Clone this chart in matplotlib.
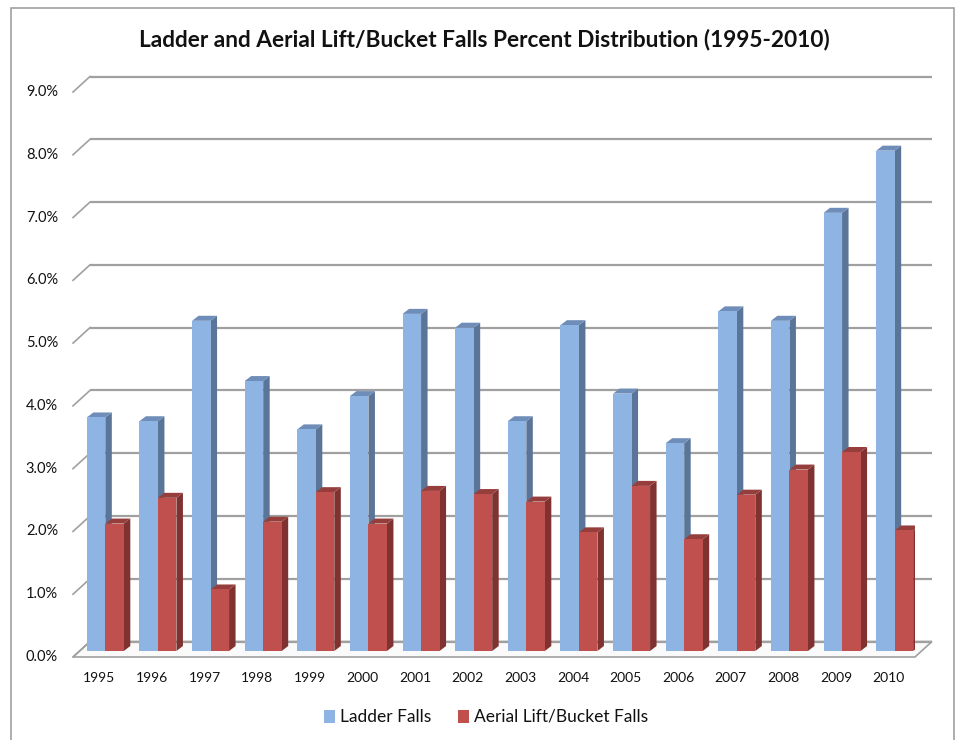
import matplotlib
matplotlib.use("Agg")
import matplotlib.pyplot as plt
from matplotlib.patches import Polygon, Rectangle
import numpy as np

# ---- data ----
years = ["1995", "1996", "1997", "1998", "1999", "2000", "2001", "2002",
         "2003", "2004", "2005", "2006", "2007", "2008", "2009", "2010"]
ladder = [3.72, 3.66, 5.26, 4.30, 3.53, 4.06, 5.37, 5.15,
          3.66, 5.19, 4.10, 3.31, 5.41, 5.26, 6.98, 7.97]
aerial = [2.03, 2.44, 0.98, 2.06, 2.53, 2.03, 2.55, 2.50,
          2.38, 1.89, 2.63, 1.78, 2.49, 2.89, 3.17, 1.92]
yticks = [0, 1, 2, 3, 4, 5, 6, 7, 8, 9]
series_names = ["Ladder Falls", "Aerial Lift/Bucket Falls"]

title = "Ladder and Aerial Lift/Bucket Falls Percent Distribution (1995-2010)"

FONT = ["Lato", "DejaVu Sans"]
plt.rcParams["font.family"] = FONT

W, H = 958, 740
fig = plt.figure(figsize=(W / 100, H / 100), dpi=100)

# front plane in pixels
x0p, x1p = 73, 915
y0p, y9p = 657, 92
ax = fig.add_axes([x0p / W, 1 - y0p / H, (x1p - x0p) / W, (y0p - y9p) / H])
ax.set_xlim(-0.5, 15.5)
ax.set_ylim(0, 9)
ax.axis("off")

ppx = (x1p - x0p) / 16.0       # pixels per category
ppy = (y0p - y9p) / 9.0         # pixels per percent

# depth offsets (data units)
dxw, dyw = 17 / ppx, 15.5 / ppy      # back wall
dxb, dyb = 6 / ppx, 6 / ppy          # bar front plane
ddx, ddy = 6.5 / ppx, 5 / ppy        # bar depth

grid_c = "#a0a0a0"
# floor
floor = Polygon([(-0.5, 0), (15.5, 0), (15.5 + dxw, dyw), (-0.5 + dxw, dyw)],
                closed=True, facecolor="#fafafa", edgecolor=grid_c, lw=1.2,
                clip_on=False, zorder=1)
ax.add_patch(floor)
# gridlines on back wall + left diagonal
for t in yticks:
    ax.plot([-0.5 + dxw, 15.5 + dxw], [t + dyw, t + dyw], color=grid_c,
            lw=1.6, clip_on=False, zorder=1, solid_capstyle="butt")
    ax.plot([-0.5, -0.5 + dxw], [t, t + dyw], color=grid_c, lw=1.2,
            clip_on=False, zorder=1)
    ax.text(-0.5 - 15 / ppx, t, f"{t:.1f}%", ha="right", va="center",
            fontsize=10.5, color="#111111")

bw = 18.5 / ppx
xs = np.arange(len(years))

styles = [
    ("#8EB4E3", "#5B7598", "#6E8DB8"),   # front, side, top
    ("#C0504D", "#7F3230", "#963E3C"),
]

for si, vals in enumerate([ladder, aerial]):
    front, side, top = styles[si]
    lefts = xs + dxb - bw + si * bw
    ax.bar(lefts, vals, width=bw, bottom=dyb, align="edge", color=front,
           edgecolor="none", zorder=3 + si)
    for l, v in zip(lefts, vals):
        r = l + bw
        yt = v + dyb
        sidep = Polygon([(r, dyb), (r + ddx, dyb + ddy), (r + ddx, yt + ddy), (r, yt)],
                        closed=True, facecolor=side, edgecolor="none", zorder=2.9 + si)
        topp = Polygon([(l, yt), (r, yt), (r + ddx, yt + ddy), (l + ddx, yt + ddy)],
                       closed=True, facecolor=top, edgecolor="none", zorder=2.9 + si)
        ax.add_patch(sidep)
        ax.add_patch(topp)

for i, y in enumerate(years):
    ax.text(i, -21 / ppy, y, ha="center", va="center", fontsize=10, color="#111111")

fig.text(484 / W, 1 - 40 / H, title, ha="center", va="center",
         fontsize=16.3, fontweight="bold", color="#111111")

# legend
for k, (name, c) in enumerate(zip(series_names, [styles[0][0], styles[1][0]])):
    xsq = [324, 458][k]
    fig.patches.append(Rectangle((xsq / W, 1 - 723 / H), 11 / W, 13 / H,
                                 transform=fig.transFigure, facecolor=c,
                                 edgecolor="none"))
    fig.text((xsq + 16) / W, 1 - 717 / H, name, ha="left", va="center",
             fontsize=12.5, color="#111111")

# outer border
fig.patches.append(Rectangle((11 / W, -0.01), (954 - 11) / W, 1 - 8 / H + 0.01,
                             transform=fig.transFigure, facecolor="none",
                             edgecolor="#a0a0a0", lw=1.2))

fig.savefig("out.png", dpi=100)
